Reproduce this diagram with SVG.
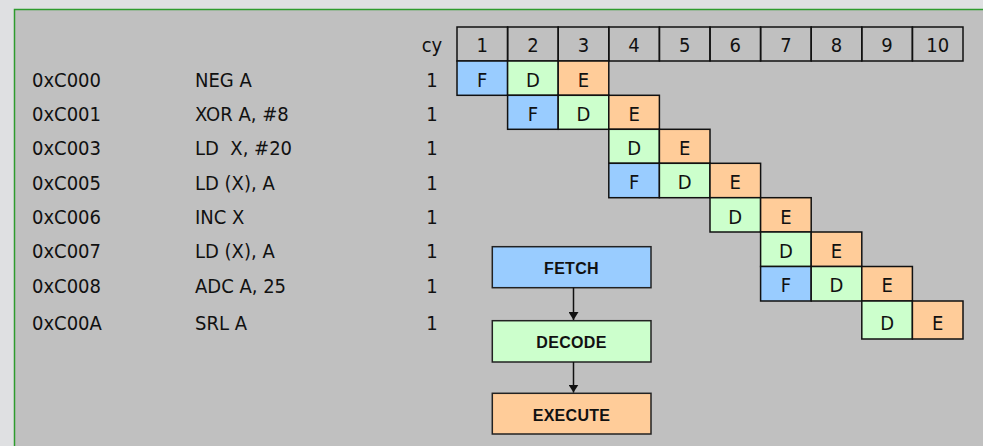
<svg xmlns="http://www.w3.org/2000/svg" width="983" height="446" viewBox="0 0 983 446">
<style>
.t{font-family:"DejaVu Sans Condensed","DejaVu Sans",sans-serif;font-stretch:condensed;font-size:20px;fill:#111}
.c{text-anchor:middle}
.cell{stroke:#111;stroke-width:1.5}
.F{fill:#99CCFF}.D{fill:#CCFFCC}.E{fill:#FFCC99}.H{fill:none}
.box{stroke:#222;stroke-width:1.5}
.bt{font-family:"Liberation Sans",Arial,sans-serif;font-weight:bold;font-size:16px;fill:#111;text-anchor:middle;letter-spacing:0.3px}
</style>
<defs>
<marker id="ah" markerWidth="8" markerHeight="10" refX="8" refY="5" orient="auto" markerUnits="userSpaceOnUse">
<path d="M0,0 L8,5 L0,10 Z" fill="#111"/>
</marker>
</defs>
<rect x="0" y="0" width="983" height="446" fill="#DFE0E2"/>
<rect x="14.5" y="9.5" width="970" height="440" fill="#C0C0C0" stroke="#2E9B2E" stroke-width="1.5"/>

<g id="labels">
<text class="t" x="32" y="86.7">0xC000</text>
<text class="t" x="195" y="86.7">NEG A</text>
<text class="t c" x="432" y="86.7">1</text>
<text class="t" x="32" y="121">0xC001</text>
<text class="t" x="195" y="121">XOR A, #8</text>
<text class="t c" x="432" y="121">1</text>
<text class="t" x="32" y="155.3">0xC003</text>
<text class="t" x="195" y="155.3" xml:space="preserve">LD  X, #20</text>
<text class="t c" x="432" y="155.3">1</text>
<text class="t" x="32" y="189.7">0xC005</text>
<text class="t" x="195" y="189.7">LD (X), A</text>
<text class="t c" x="432" y="189.7">1</text>
<text class="t" x="32" y="224">0xC006</text>
<text class="t" x="195" y="224">INC X</text>
<text class="t c" x="432" y="224">1</text>
<text class="t" x="32" y="258.3">0xC007</text>
<text class="t" x="195" y="258.3">LD (X), A</text>
<text class="t c" x="432" y="258.3">1</text>
<text class="t" x="32" y="292.7">0xC008</text>
<text class="t" x="195" y="292.7">ADC A, 25</text>
<text class="t c" x="432" y="292.7">1</text>
<text class="t" x="32" y="330">0xC00A</text>
<text class="t" x="195" y="330">SRL A</text>
<text class="t c" x="432" y="330">1</text>
<text class="t c" x="432" y="52">cy</text>
</g>

<g id="header">
<rect class="cell H" x="457" y="27" width="50.6" height="34"/><text class="t c" x="482.3" y="52.3">1</text>
<rect class="cell H" x="507.6" y="27" width="50.6" height="34"/><text class="t c" x="532.9" y="52.3">2</text>
<rect class="cell H" x="558.2" y="27" width="50.6" height="34"/><text class="t c" x="583.5" y="52.3">3</text>
<rect class="cell H" x="608.8" y="27" width="50.6" height="34"/><text class="t c" x="634.1" y="52.3">4</text>
<rect class="cell H" x="659.4" y="27" width="50.6" height="34"/><text class="t c" x="684.7" y="52.3">5</text>
<rect class="cell H" x="710" y="27" width="50.6" height="34"/><text class="t c" x="735.3" y="52.3">6</text>
<rect class="cell H" x="760.6" y="27" width="50.6" height="34"/><text class="t c" x="785.9" y="52.3">7</text>
<rect class="cell H" x="811.2" y="27" width="50.6" height="34"/><text class="t c" x="836.5" y="52.3">8</text>
<rect class="cell H" x="861.8" y="27" width="50.6" height="34"/><text class="t c" x="887.1" y="52.3">9</text>
<rect class="cell H" x="912.4" y="27" width="50.6" height="34"/><text class="t c" x="937.7" y="52.3">10</text>
</g>

<g id="row0">
<rect class="cell F" x="457" y="61" width="50.6" height="34.3"/><text class="t c" x="482.3" y="86.7">F</text>
<rect class="cell D" x="507.6" y="61" width="50.6" height="34.3"/><text class="t c" x="532.9" y="86.7">D</text>
<rect class="cell E" x="558.2" y="61" width="50.6" height="34.3"/><text class="t c" x="583.5" y="86.7">E</text>
</g>
<g id="row1">
<rect class="cell F" x="507.6" y="95.3" width="50.6" height="34"/><text class="t c" x="532.9" y="121">F</text>
<rect class="cell D" x="558.2" y="95.3" width="50.6" height="34"/><text class="t c" x="583.5" y="121">D</text>
<rect class="cell E" x="608.8" y="95.3" width="50.6" height="34"/><text class="t c" x="634.1" y="121">E</text>
</g>
<g id="row2">
<rect class="cell D" x="608.8" y="129.3" width="50.6" height="34"/><text class="t c" x="634.1" y="155">D</text>
<rect class="cell E" x="659.4" y="129.3" width="50.6" height="34"/><text class="t c" x="684.7" y="155">E</text>
</g>
<g id="row3">
<rect class="cell F" x="608.8" y="163.3" width="50.6" height="34.4"/><text class="t c" x="634.1" y="189.2">F</text>
<rect class="cell D" x="659.4" y="163.3" width="50.6" height="34.4"/><text class="t c" x="684.7" y="189.2">D</text>
<rect class="cell E" x="710" y="163.3" width="50.6" height="34.4"/><text class="t c" x="735.3" y="189.2">E</text>
</g>
<g id="row4">
<rect class="cell D" x="710" y="197.7" width="50.6" height="34.3"/><text class="t c" x="735.3" y="223.5">D</text>
<rect class="cell E" x="760.6" y="197.7" width="50.6" height="34.3"/><text class="t c" x="785.9" y="223.5">E</text>
</g>
<g id="row5">
<rect class="cell D" x="760.6" y="232" width="50.6" height="34.5"/><text class="t c" x="785.9" y="258">D</text>
<rect class="cell E" x="811.2" y="232" width="50.6" height="34.5"/><text class="t c" x="836.5" y="258">E</text>
</g>
<g id="row6">
<rect class="cell F" x="760.6" y="266.5" width="50.6" height="34.5"/><text class="t c" x="785.9" y="292.3">F</text>
<rect class="cell D" x="811.2" y="266.5" width="50.6" height="34.5"/><text class="t c" x="836.5" y="292.3">D</text>
<rect class="cell E" x="861.8" y="266.5" width="50.6" height="34.5"/><text class="t c" x="887.1" y="292.3">E</text>
</g>
<g id="row7">
<rect class="cell D" x="861.8" y="301" width="50.6" height="38"/><text class="t c" x="887.1" y="329.5">D</text>
<rect class="cell E" x="912.4" y="301" width="50.6" height="38"/><text class="t c" x="937.7" y="329.5">E</text>
</g>

<g id="fetch">
<rect class="box" x="492.3" y="246.7" width="158.7" height="41" fill="#99CCFF"/>
<text class="bt" x="571.5" y="274">FETCH</text>
</g>
<g id="decode">
<rect class="box" x="492.3" y="320.7" width="158.7" height="41.3" fill="#CCFFCC"/>
<text class="bt" x="571.5" y="348">DECODE</text>
</g>
<g id="execute">
<rect class="box" x="492.3" y="393.3" width="158.7" height="40.7" fill="#FFCC99"/>
<text class="bt" x="571.5" y="420.5">EXECUTE</text>
</g>

<g id="connectors" stroke="#111" stroke-width="1.5" fill="none">
<line x1="573.5" y1="287.7" x2="573.5" y2="320" marker-end="url(#ah)"/>
<line x1="573.5" y1="362" x2="573.5" y2="392.6" marker-end="url(#ah)"/>
</g>
</svg>
